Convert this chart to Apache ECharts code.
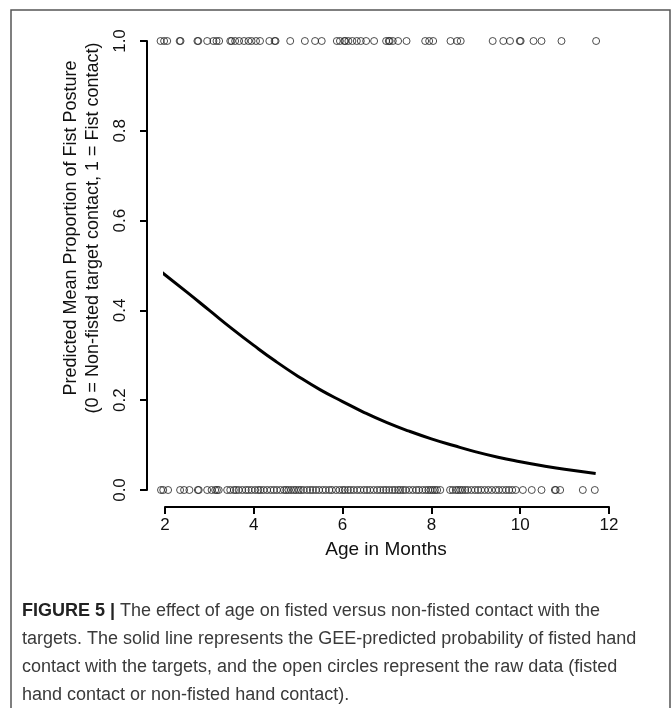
<!DOCTYPE html>
<html><head><meta charset="utf-8">
<script src="https://cdn.jsdelivr.net/npm/echarts@6/dist/echarts.min.js"></script>
<style>html,body{margin:0;padding:0;background:#fff}#c{width:672px;height:708px}</style>
</head><body><div id="c"></div>
<script>
const xTicks = [2, 4, 6, 8, 10, 12];
const yTicks = ['0.0', '0.2', '0.4', '0.6', '0.8', '1.0'];
const xTitle = 'Age in Months';
const yTitle = ['Predicted Mean Proportion of Fist Posture', '(0 = Non-fisted target contact, 1 = Fist contact)'];

// raw data: ages of fisted contacts (y = 1)
const fistAges = [1.90, 1.98, 2.05, 2.33, 2.35, 2.73, 2.75, 2.95, 3.09, 3.16, 3.22, 3.47, 3.50, 3.58, 3.67, 3.78, 3.88, 3.95, 4.05, 4.14,
  4.35, 4.47, 4.49, 4.82, 5.15, 5.38, 5.53, 5.87, 5.94, 6.04, 6.06, 6.13, 6.22, 6.32, 6.41, 6.53, 6.71, 6.98, 7.04, 7.06, 7.13, 7.25,
  7.44, 7.86, 7.95, 8.04, 8.43, 8.58, 8.66, 9.38, 9.62, 9.77, 9.99, 10.01, 10.30, 10.48, 10.93, 11.71];
// raw data: ages of non-fisted contacts (y = 0)
const nonFistAges = [1.91, 1.96, 2.07, 2.34, 2.43, 2.55, 2.74, 2.76, 2.95, 3.05, 3.13, 3.17, 3.21, 3.40, 3.47, 3.55, 3.60, 3.66, 3.74,
  3.82, 3.88, 3.95, 4.03, 4.10, 4.15, 4.22, 4.30, 4.38, 4.45, 4.52, 4.60, 4.68, 4.73, 4.78, 4.84, 4.90, 4.95, 5.01, 5.06, 5.12, 5.20,
  5.27, 5.33, 5.40, 5.47, 5.55, 5.62, 5.70, 5.76, 5.85, 5.93, 6.00, 6.05, 6.12, 6.18, 6.25, 6.33, 6.40, 6.48, 6.55, 6.62, 6.70, 6.78,
  6.85, 6.92, 6.98, 7.05, 7.12, 7.18, 7.25, 7.30, 7.36, 7.42, 7.50, 7.58, 7.66, 7.72, 7.80, 7.87, 7.93, 7.98, 8.03, 8.08, 8.13, 8.20,
  8.42, 8.48, 8.55, 8.60, 8.65, 8.70, 8.76, 8.82, 8.90, 8.98, 9.05, 9.12, 9.20, 9.28, 9.36, 9.45, 9.52, 9.60, 9.68, 9.75, 9.82, 9.90,
  10.06, 10.26, 10.48, 10.78, 10.80, 10.90, 11.41, 11.68];
// GEE-predicted probability curve
const curveAges = [1.9, 2.5, 3.0, 3.5, 4.0, 4.5, 5.0, 5.5, 6.0, 6.5, 7.0, 7.5, 8.0, 8.5, 9.0, 9.5, 10.0, 10.5, 11.0, 11.7];
const curveProb = [0.487, 0.44, 0.40, 0.36, 0.322, 0.286, 0.253, 0.223, 0.197, 0.172, 0.150, 0.131, 0.114, 0.099, 0.085, 0.073, 0.063, 0.054, 0.046, 0.037];

const captionBold = 'FIGURE 5 |';
const captionLines = [
  ' The effect of age on fisted versus non-fisted contact with the',
  'targets. The solid line represents the GEE-predicted probability of fisted hand',
  'contact with the targets, and the open circles represent the raw data (fisted',
  'hand contact or non-fisted hand contact).'
];

const FONT = '"Liberation Sans", Arial, sans-serif';
const chart = echarts.init(document.getElementById('c'), null, {renderer: 'canvas'});

const capY = [611, 639, 667, 695];
const graphics = [
  {type: 'rect', shape: {x: 11, y: 10, width: 659, height: 740}, style: {fill: 'none', stroke: '#555', lineWidth: 1.5}, silent: true},
  {type: 'text', x: 82, y: 228, rotation: Math.PI / 2,
    style: {text: yTitle.join('\n'), fontFamily: FONT, fontSize: 18, fill: '#111', align: 'center', verticalAlign: 'middle', lineHeight: 22}},
  {type: 'text', x: 386, y: 550,
    style: {text: xTitle, fontFamily: FONT, fontSize: 19, fill: '#111', align: 'center', verticalAlign: 'middle'}},
  {type: 'text', x: 22, y: capY[0],
    style: {text: '{b|' + captionBold + '}{n|' + captionLines[0] + '}', fontFamily: FONT, fontSize: 18, fill: '#3a3a3a', verticalAlign: 'middle',
      rich: {
        b: {fontFamily: FONT, fontSize: 18, fontWeight: 'bold', fill: '#222'},
        n: {fontFamily: FONT, fontSize: 18, fill: '#3a3a3a'}
      }}}
];
for (let i = 1; i < captionLines.length; i++) {
  graphics.push({type: 'text', x: 22, y: capY[i],
    style: {text: captionLines[i], fontFamily: FONT, fontSize: 18, fill: '#3a3a3a', verticalAlign: 'middle'}});
}

const axisCommon = {
  axisLine: {show: true, onZero: false, lineStyle: {color: '#000', width: 2}},
  axisTick: {show: true, length: 7, lineStyle: {color: '#000', width: 2}},
  splitLine: {show: false}
};

chart.setOption({
  animation: false,
  backgroundColor: '#fff',
  grid: {left: 165, right: 63, top: 41, bottom: 218},
  xAxis: Object.assign({
    type: 'value', min: xTicks[0], max: xTicks[xTicks.length - 1], interval: 2, offset: 17,
    axisLabel: {fontFamily: FONT, fontSize: 17, color: '#111', margin: 10, formatter: v => String(v)}
  }, axisCommon),
  yAxis: Object.assign({
    type: 'value', min: 0, max: 1, interval: 0.2, offset: 18,
    axisLabel: {fontFamily: FONT, fontSize: 17, color: '#111', margin: 18, rotate: 90,
      formatter: v => yTicks[Math.round(v * 5)]}
  }, axisCommon),
  graphic: graphics,
  series: [
    {type: 'scatter', clip: false, symbol: 'circle', symbolSize: 7,
      itemStyle: {color: 'rgba(0,0,0,0)', borderColor: '#222', borderWidth: 1},
      data: fistAges.map(a => [a, 1])},
    {type: 'scatter', clip: false, symbol: 'circle', symbolSize: 7,
      itemStyle: {color: 'rgba(0,0,0,0)', borderColor: '#222', borderWidth: 1},
      data: nonFistAges.map(a => [a, 0])},
    {type: 'line', clip: false, smooth: true, showSymbol: false, symbol: 'none',
      lineStyle: {color: '#000', width: 3},
      data: curveAges.map((a, i) => [a, curveProb[i]])}
  ]
});
</script>
</body></html>
